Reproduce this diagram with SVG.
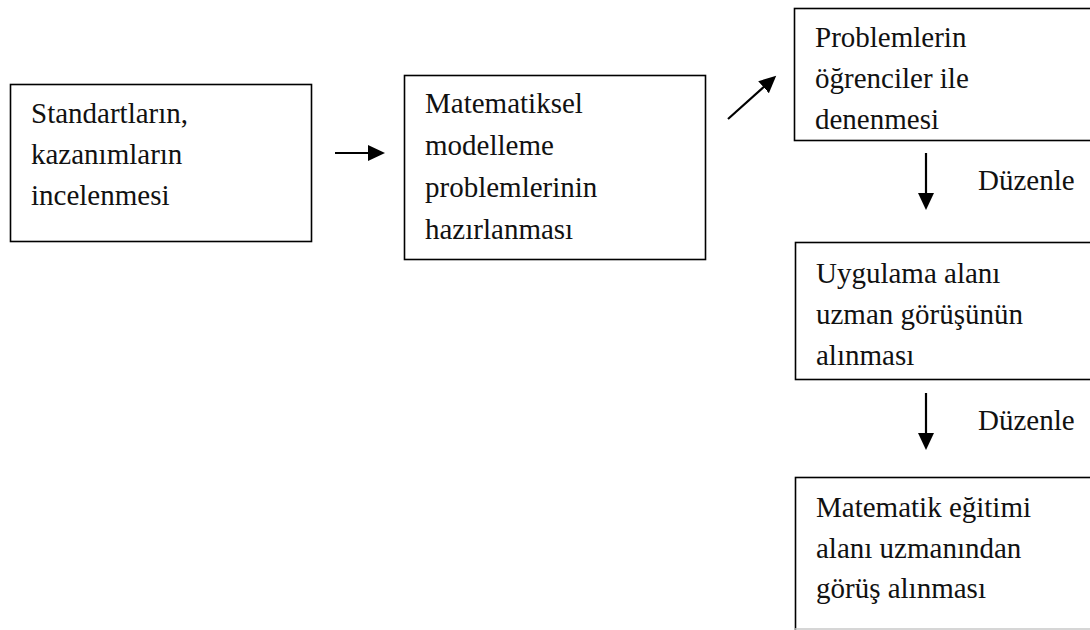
<svg xmlns="http://www.w3.org/2000/svg" width="1090" height="630" viewBox="0 0 1090 630">
  <style>
    .box { fill: #ffffff; stroke: #000000; stroke-width: 1.6; }
    .t { font-family: "Liberation Serif", "Times New Roman", serif; font-size: 29px; fill: #111111; }
    .conn { stroke: #000000; stroke-width: 2.2; fill: none; }
  </style>
  <defs>
    <marker id="ah" markerUnits="userSpaceOnUse" markerWidth="20" markerHeight="18" refX="10" refY="8" orient="auto">
      <path d="M0,0 L17,8 L0,16 Z" fill="#000000"/>
    </marker>
  </defs>
  <rect width="1090" height="630" fill="#ffffff"/>

  <g id="n1">
    <rect class="box" x="10.5" y="84.5" width="301" height="157"/>
    <text class="t" x="31" y="123">Standartların,</text>
    <text class="t" x="31" y="164">kazanımların</text>
    <text class="t" x="31" y="205">incelenmesi</text>
  </g>

  <g id="n2">
    <rect class="box" x="404.5" y="75.5" width="301" height="184"/>
    <text class="t" x="425" y="113">Matematiksel</text>
    <text class="t" x="425" y="155">modelleme</text>
    <text class="t" x="425" y="197">problemlerinin</text>
    <text class="t" x="425" y="239">hazırlanması</text>
  </g>

  <g id="n3">
    <rect class="box" x="794.5" y="8.5" width="310" height="132"/>
    <text class="t" x="815" y="47">Problemlerin</text>
    <text class="t" x="815" y="88">öğrenciler ile</text>
    <text class="t" x="815" y="129">denenmesi</text>
  </g>

  <g id="n4">
    <rect class="box" x="795.5" y="242.5" width="310" height="137"/>
    <text class="t" x="816" y="283">Uygulama alanı</text>
    <text class="t" x="816" y="324">uzman görüşünün</text>
    <text class="t" x="816" y="365">alınması</text>
  </g>

  <g id="n5">
    <rect class="box" x="795.5" y="477.5" width="310" height="170"/>
    <text class="t" x="816" y="517">Matematik eğitimi</text>
    <text class="t" x="816" y="558">alanı uzmanından</text>
    <text class="t" x="816" y="598">görüş alınması</text>
    <line x1="795" y1="629" x2="1090" y2="629" stroke="#c8c8c8" stroke-width="1.5"/>
  </g>

  <g id="connectors">
    <line class="conn" x1="335" y1="153" x2="378" y2="153" marker-end="url(#ah)"/>
    <line class="conn" x1="728" y1="119" x2="771" y2="80.5" marker-end="url(#ah)"/>
    <line class="conn" x1="926" y1="153" x2="926" y2="203" marker-end="url(#ah)"/>
    <line class="conn" x1="926" y1="393" x2="926" y2="443" marker-end="url(#ah)"/>
    <text class="t" x="978" y="190">Düzenle</text>
    <text class="t" x="978" y="430">Düzenle</text>
  </g>
</svg>
